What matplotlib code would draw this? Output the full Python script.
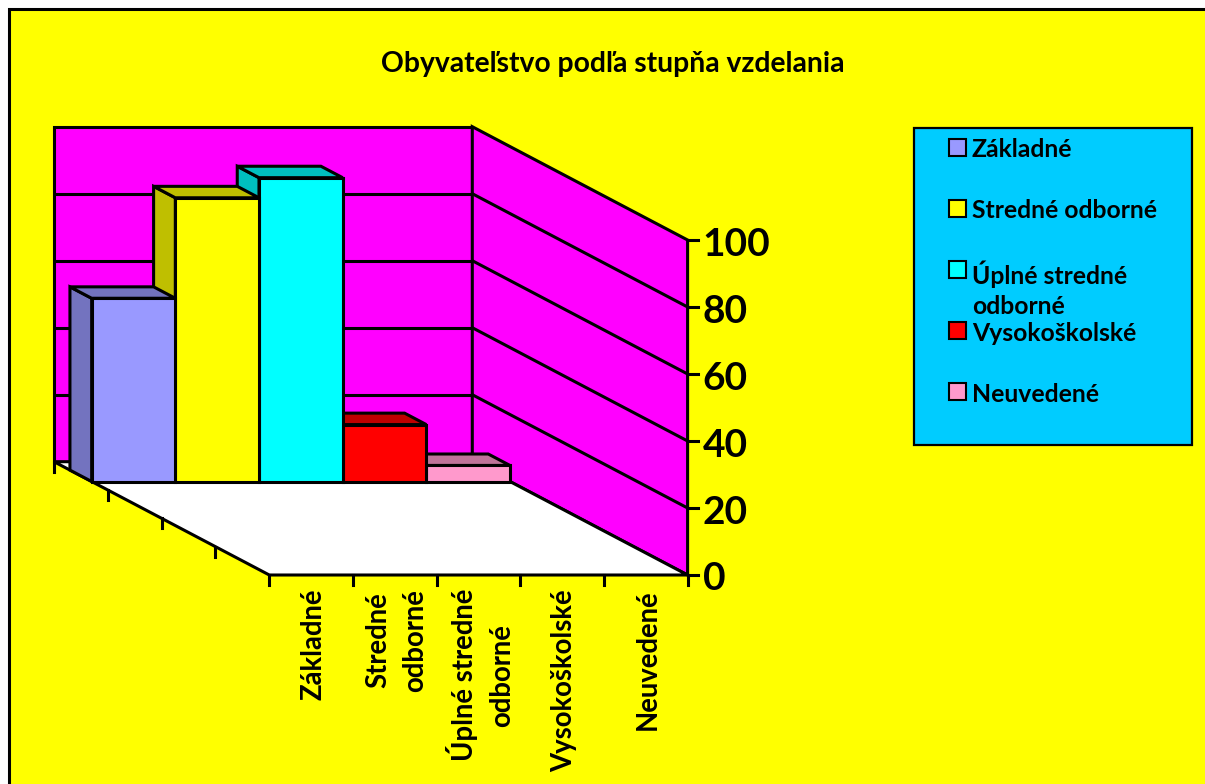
"""
Obyvatelstvo podla stupna vzdelania - 3D style column chart drawn on a flat axes.
"""

import matplotlib
matplotlib.use("Agg")
import matplotlib.pyplot as plt
from matplotlib.patches import Polygon, Rectangle

# Chart data
categories = ["Základné", "Stredné odborné", "Úplné stredné odborné", "Vysokoškolské", "Neuvedené"]
axis_labels = ["Základné", "Stredné\nodborné", "Úplné stredné\nodborné", "Vysokoškolské", "Neuvedené"]
legend_labels = ["Základné", "Stredné odborné", "Úplné stredné\nodborné", "Vysokoškolské", "Neuvedené"]
values = [54.7, 84.7, 90.7, 17.0, 4.8]
value_ticks = [0, 20, 40, 60, 80, 100]

front_colors = ["#9999FF", "#FFFF00", "#00FFFF", "#FF0000", "#FF99CC"]
shade_colors = ["#7373BF", "#BFBF00", "#00BFBF", "#BF0000", "#BF7399"]

# Projection of the fake 3D box, in pixels
ORIGIN_X, ORIGIN_Y = 54.0, 461.7
CAT_STEP = 83.66
DEPTH_DX, DEPTH_DY = 215.3, 113.3
VALUE_STEP = 3.35
BAR_BACK, BAR_FRONT = 0.074, 0.175
LW = 2.2

plt.rcParams["font.family"] = ["Lato", "DejaVu Sans"]
plt.rcParams["font.weight"] = "bold"


def project(cat, depth, value):
    x = ORIGIN_X + cat * CAT_STEP + depth * DEPTH_DX
    y = ORIGIN_Y + depth * DEPTH_DY - value * VALUE_STEP
    return x, y


def face(ax, corners, color):
    ax.add_patch(Polygon([project(*c) for c in corners], closed=True, facecolor=color,
                         edgecolor="black", linewidth=LW, joinstyle="miter", zorder=1))


def line(ax, start, end):
    xs, ys = zip(project(*start), project(*end))
    ax.plot(xs, ys, color="black", linewidth=LW, solid_capstyle="butt", zorder=1)


fig = plt.figure(figsize=(12.05, 7.84), dpi=100, facecolor="white")
ax = fig.add_axes([0, 0, 1, 1])
ax.set_xlim(0, 1205)
ax.set_ylim(784, 0)
ax.axis("off")

# Chart area, runs off the right and bottom of the picture
ax.add_patch(Rectangle((9, 9), 1210, 790, facecolor="#FFFF00", edgecolor="black", linewidth=LW, zorder=0))

ax.text(612.5, 64, "Obyvateľstvo podľa stupňa vzdelania", fontsize=20.3, ha="center", va="center")

# Walls and floor
n = len(categories)
top = value_ticks[-1]
face(ax, [(0, 0, 0), (n, 0, 0), (n, 0, top), (0, 0, top)], "#FF00FF")
face(ax, [(n, 0, 0), (n, 1, 0), (n, 1, top), (n, 0, top)], "#FF00FF")
face(ax, [(0, 0, 0), (n, 0, 0), (n, 1, 0), (0, 1, 0)], "white")

# Gridlines and value axis
for v in value_ticks[1:-1]:
    line(ax, (0, 0, v), (n, 0, v))
    line(ax, (n, 0, v), (n, 1, v))
for v in value_ticks:
    x, y = project(n, 1, v)
    ax.plot([x, x + 10], [y, y], color="black", linewidth=LW, zorder=1)
    ax.text(x + 15, y + 4, str(v), fontsize=28, ha="left", va="center")

# Axis ticks on the floor edges
for c in range(n + 1):
    x, y = project(c, 1, 0)
    ax.plot([x, x], [y, y + 10], color="black", linewidth=LW, zorder=1)
for d in [0, 0.25, 0.5, 0.75]:
    x, y = project(0, d, 0)
    ax.plot([x, x], [y, y + 10], color="black", linewidth=LW, zorder=1)

# Columns, right to left so that each front face hides the next side face
for i in range(n - 1, -1, -1):
    v = values[i]
    face(ax, [(i, BAR_BACK, 0), (i, BAR_FRONT, 0), (i, BAR_FRONT, v), (i, BAR_BACK, v)], shade_colors[i])
    face(ax, [(i, BAR_BACK, v), (i + 1, BAR_BACK, v), (i + 1, BAR_FRONT, v), (i, BAR_FRONT, v)], shade_colors[i])
    face(ax, [(i, BAR_FRONT, 0), (i + 1, BAR_FRONT, 0), (i + 1, BAR_FRONT, v), (i, BAR_FRONT, v)], front_colors[i])

# Category labels
for i, label in enumerate(axis_labels):
    x, y = project(i + 0.5, 1, 0)
    ax.text(x + 2, y + 14, label, fontsize=19.8, rotation=90, ha="center", va="top",
            multialignment="center", linespacing=1.5)

# Legend
ax.add_patch(Rectangle((913.5, 128), 278.5, 317, facecolor="#00CCFF", edgecolor="black", linewidth=1.6))
row_y = [147, 208, 269, 330.5, 391.5]
for label, color, y in zip(legend_labels, front_colors, row_y):
    ax.add_patch(Rectangle((949, y - 8.5), 16.5, 17, facecolor=color, edgecolor="black", linewidth=1.5))
    ax.text(972, y - 9, label, fontsize=17.8, ha="left", va="top", linespacing=1.4)

fig.savefig("out.png", dpi=100, facecolor=fig.get_facecolor())
